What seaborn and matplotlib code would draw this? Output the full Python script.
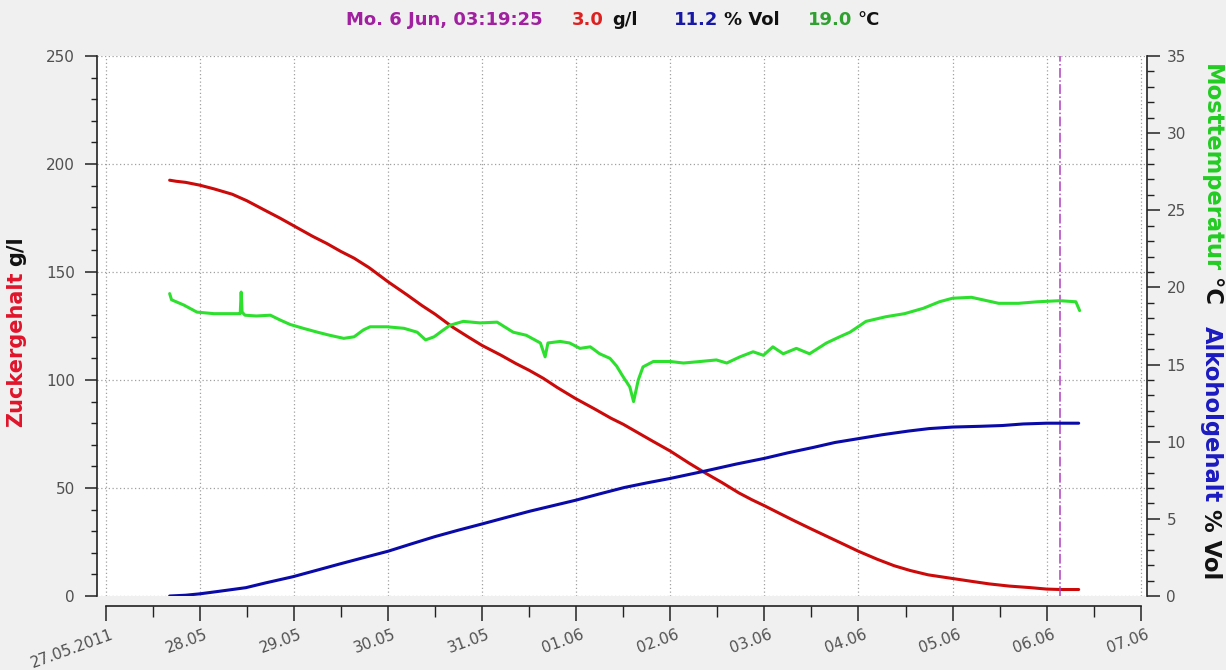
import matplotlib
matplotlib.use("Agg")
import matplotlib.pyplot as plt
import matplotlib.transforms as mtransforms
from matplotlib.ticker import MultipleLocator, FixedLocator
import numpy as np
import pandas as pd
import seaborn as sns

W, H = 1226, 670

# ---- data: x = days since 27.05.2011 00:00 ----
sugar_day = [0.68, 0.75, 0.85, 1.0, 1.15, 1.345, 1.5, 1.7, 1.85, 1.99, 2.2, 2.35, 2.5, 2.64, 2.8,
             3.0, 3.2, 3.36, 3.5, 3.69, 3.85, 4.0, 4.2, 4.36, 4.5, 4.65, 4.8, 4.99, 5.2, 5.37,
             5.5, 5.66, 5.8, 6.0, 6.2, 6.37, 6.55, 6.73, 6.87, 7.0, 7.15, 7.31, 7.5, 7.67, 7.85,
             8.0, 8.2, 8.38, 8.55, 8.74, 9.0, 9.2, 9.39, 9.6, 9.82, 10.0, 10.15, 10.34]
sugar_gl = [192.5, 192, 191.5, 190.2, 188.5, 186, 183, 178.4, 175, 171.6, 166.5, 163.2, 159.5, 156.4, 152,
            145.5, 139.5, 134.5, 130.5, 124.4, 120, 116, 111.5, 107.6, 104.5, 100.8, 96.5, 91.5, 86.5, 82.3,
            79.5, 75.5, 72, 67.1, 61.5, 57, 52.5, 47.7, 44.5, 41.8, 38.5, 35, 31, 27.5, 23.8,
            20.7, 17, 14, 11.8, 9.8, 8.1, 6.8, 5.6, 4.6, 3.9, 3.2, 3.0, 3.0]

alcohol_day = [0.68, 0.85, 1.0, 1.2, 1.49, 1.7, 1.99, 2.25, 2.49, 2.75, 3.0, 3.25, 3.5, 3.75, 4.0,
               4.25, 4.51, 4.75, 4.99, 5.25, 5.51, 5.75, 6.0, 6.37, 6.7, 7.0, 7.25, 7.52, 7.75, 8.0,
               8.25, 8.53, 8.75, 9.0, 9.3, 9.53, 9.75, 10.0, 10.34]
alcohol_vol = [0.0, 0.05, 0.14, 0.3, 0.54, 0.85, 1.25, 1.68, 2.08, 2.5, 2.9, 3.38, 3.85, 4.27, 4.67,
               5.08, 5.5, 5.85, 6.2, 6.62, 7.03, 7.33, 7.62, 8.1, 8.55, 8.92, 9.28, 9.63, 9.95, 10.2,
               10.45, 10.69, 10.85, 10.95, 11.0, 11.05, 11.15, 11.2, 11.2]

temp_day = [0.68, 0.70, 0.83, 0.97, 1.15, 1.41, 1.43, 1.44, 1.45, 1.48, 1.6, 1.75, 1.85, 1.96, 2.1,
            2.25, 2.38, 2.53, 2.64, 2.74, 2.81, 2.99, 3.17, 3.31, 3.4, 3.49, 3.59, 3.66, 3.8, 3.98,
            4.16, 4.33, 4.47, 4.62, 4.67, 4.70, 4.83, 4.93, 5.04, 5.15, 5.25, 5.36, 5.43, 5.5, 5.57,
            5.61, 5.66, 5.71, 5.82, 6.0, 6.14, 6.32, 6.49, 6.6, 6.74, 6.88, 6.99, 7.09, 7.2, 7.34,
            7.48, 7.66, 7.8, 7.91, 8.08, 8.29, 8.49, 8.69, 8.86, 9.0, 9.2, 9.49, 9.7, 9.9, 10.14,
            10.31, 10.35]
temp_c = [19.6, 19.2, 18.86, 18.4, 18.3, 18.3, 18.3, 19.7, 18.4, 18.2, 18.15, 18.2, 17.9, 17.6, 17.35,
          17.1, 16.9, 16.7, 16.8, 17.25, 17.45, 17.45, 17.35, 17.1, 16.6, 16.8, 17.25, 17.55, 17.8, 17.7,
          17.75, 17.1, 16.9, 16.4, 15.5, 16.4, 16.5, 16.4, 16.05, 16.15, 15.7, 15.4, 14.9, 14.2, 13.55,
          12.6, 14.0, 14.85, 15.2, 15.2, 15.1, 15.2, 15.3, 15.1, 15.5, 15.83, 15.6, 16.15, 15.7, 16.05,
          15.7, 16.4, 16.8, 17.1, 17.8, 18.1, 18.3, 18.65, 19.07, 19.3, 19.36, 18.97, 18.97, 19.07, 19.14,
          19.07, 18.5]

x_tick_labels = ["27.05.2011", "28.05", "29.05", "30.05", "31.05", "01.06",
                 "02.06", "03.06", "04.06", "05.06", "06.06", "07.06"]
cursor_day = 10.138  # Mo. 6 Jun, 03:19:25

title_parts = [("Mo. 6 Jun, 03:19:25", "#a020a0", 0),
               ("3.0", "#dd2020", 29), ("g/l", "#111111", 9),
               ("11.2", "#1818a8", 36), ("% Vol", "#111111", 6),
               ("19.0", "#30a030", 28), ("°C", "#111111", 5)]
left_label_parts = [("Zuckergehalt", "#e0142a", 0), ("g/l", "#111111", 6)]
right_label_parts = [("Mosttemperatur", "#22cc22", 0), ("°C", "#111111", 6),
                     ("Alkoholgehalt", "#1a1ac0", 20), ("% Vol", "#111111", 7)]

RED, BLUE, GREEN = "#cc0a0a", "#0a0aa8", "#2ee02e"

# ---- style ----
sns.set_style("white")
plt.rcParams["font.family"] = ["DejaVu Sans"]

fig = plt.figure(figsize=(W / 100, H / 100), dpi=100, facecolor="#f0f0f0")
ax = fig.add_axes([97 / W, 1 - 596 / H, (1147 - 97) / W, (596 - 56) / H])
ax.set_facecolor("white")
ax2 = ax.twinx()

sugar_df = pd.DataFrame({"day": sugar_day, "val": sugar_gl})
alc_df = pd.DataFrame({"day": alcohol_day, "val": alcohol_vol})
temp_df = pd.DataFrame({"day": temp_day, "val": temp_c})

sns.lineplot(data=sugar_df, x="day", y="val", ax=ax, color=RED, lw=2.2,
             sort=False, estimator=None, legend=False, zorder=3)
sns.lineplot(data=temp_df, x="day", y="val", ax=ax2, color=GREEN, lw=2.2,
             sort=False, estimator=None, legend=False, zorder=3)
sns.lineplot(data=alc_df, x="day", y="val", ax=ax2, color=BLUE, lw=2.2,
             sort=False, estimator=None, legend=False, zorder=3)

ax.axvline(cursor_day, color="#b040c0", ls="-.", lw=1.1, zorder=4)

# ---- axes ----
ax.set_xlim(-0.092, 11.066)
ax.set_ylim(0, 250)
ax2.set_ylim(0, 35)
ax.set_xlabel("")
ax.set_ylabel("")
ax2.set_ylabel("")

ax.xaxis.set_major_locator(FixedLocator(range(len(x_tick_labels))))
ax.xaxis.set_minor_locator(MultipleLocator(0.5))
ax.set_xticklabels(x_tick_labels)
ax.yaxis.set_major_locator(MultipleLocator(50))
ax.yaxis.set_minor_locator(MultipleLocator(10))
ax2.yaxis.set_major_locator(MultipleLocator(5))
ax2.yaxis.set_minor_locator(MultipleLocator(1))

ax.grid(True, which="major", axis="both", color="#a0a0a0", linestyle=(0, (1, 2)), lw=0.9)
ax.set_axisbelow(True)

spine_col = "#222222"
for s in ["top", "right"]:
    ax.spines[s].set_visible(False)
for s in ["top", "left", "bottom"]:
    ax2.spines[s].set_visible(False)
ax.spines["left"].set_color(spine_col)
ax.spines["left"].set_linewidth(1.2)
ax.spines["bottom"].set_color(spine_col)
ax.spines["bottom"].set_linewidth(1.2)
ax.spines["bottom"].set_position(("outward", 7.5))
ax.spines["bottom"].set_bounds(0, 11)
ax2.spines["right"].set_color(spine_col)
ax2.spines["right"].set_linewidth(1.2)

lab_col = "#505050"
ax.tick_params(axis="y", which="major", direction="out", length=9, width=1.1, color=spine_col,
               labelsize=11, labelcolor=lab_col, pad=7, left=True)
ax.tick_params(axis="y", which="minor", direction="out", length=4.5, width=1.0, color=spine_col, left=True)
ax2.tick_params(axis="y", which="major", direction="out", length=9, width=1.1, color=spine_col,
                labelsize=11, labelcolor=lab_col, pad=5, right=True)
ax2.tick_params(axis="y", which="minor", direction="out", length=5, width=1.0, color=spine_col, right=True)
ax.tick_params(axis="x", which="major", direction="out", length=11, width=1.1, color=spine_col,
               labelsize=11, labelcolor=lab_col, pad=4, bottom=True)
ax.tick_params(axis="x", which="minor", direction="out", length=8, width=1.0, color=spine_col, bottom=True)

offset = mtransforms.ScaledTranslation(5 / 100, 0, fig.dpi_scale_trans)
for lab in ax.get_xticklabels():
    lab.set_rotation(20)
    lab.set_ha("right")
    lab.set_va("top")
    lab.set_rotation_mode("anchor")
    lab.set_transform(lab.get_transform() + offset)

# ---- multi-coloured texts ----
renderer = fig.canvas.get_renderer()

def title_row(parts, y_img, size, center_x):
    texts, widths = [], []
    for txt, col, gap in parts:
        t = fig.text(0, 1 - y_img / H, txt, color=col, fontsize=size, fontweight="bold",
                     ha="left", va="center")
        texts.append(t)
        widths.append(t.get_window_extent(renderer).width)
    total = sum(widths) + sum(g for _, _, g in parts)
    x = center_x - total / 2
    for t, w, (_, _, gap) in zip(texts, widths, parts):
        x += gap
        t.set_x(x / W)
        x += w

def vertical_row(parts, x_img, y_start, size, upward):
    y = y_start
    for txt, col, gap in parts:
        if upward:
            y -= gap
            t = fig.text(x_img / W, 1 - y / H, txt, color=col, fontsize=size, fontweight="bold",
                         rotation=90, ha="center", va="bottom")
            y -= t.get_window_extent(renderer).height
        else:
            y += gap
            t = fig.text(x_img / W, 1 - y / H, txt, color=col, fontsize=size, fontweight="bold",
                         rotation=270, ha="center", va="top")
            y += t.get_window_extent(renderer).height

title_row(title_parts, 20, 13, 613)
vertical_row(left_label_parts, 16, 427, 15, upward=True)
vertical_row(right_label_parts, 1211, 64, 16.3, upward=False)

fig.savefig("out.png", dpi=100, facecolor=fig.get_facecolor())
